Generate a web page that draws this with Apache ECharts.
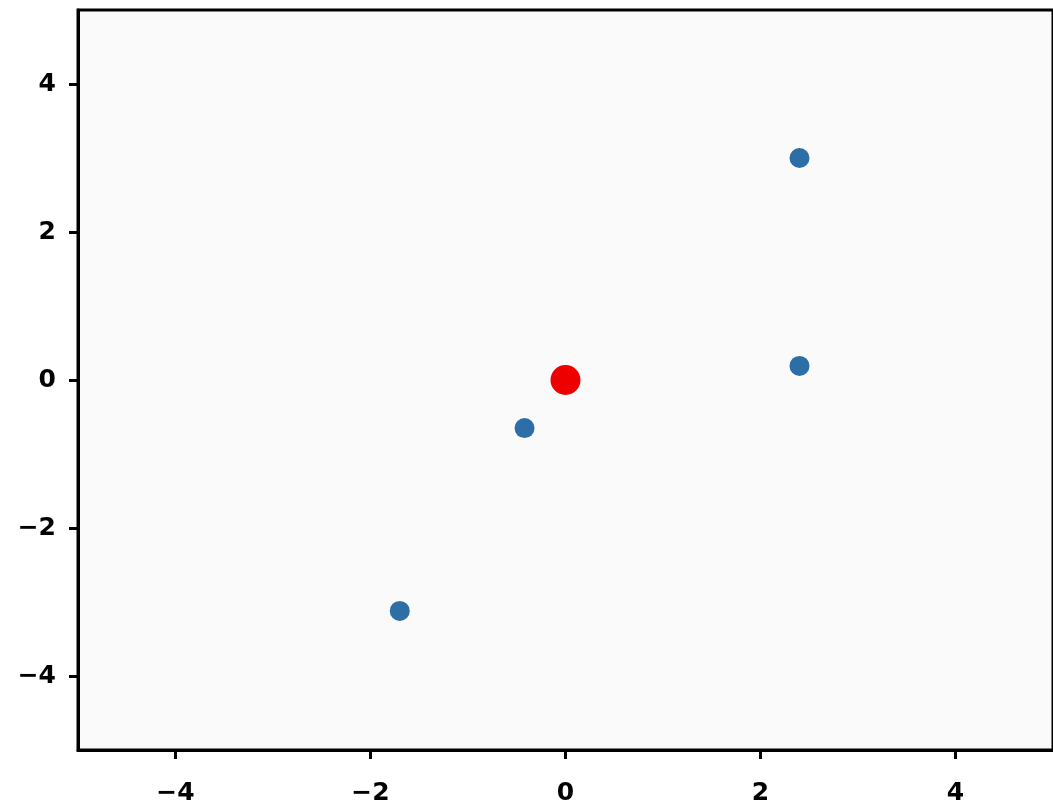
<!DOCTYPE html>
<html>
<head>
<meta charset="utf-8">
<script src="https://cdn.jsdelivr.net/npm/echarts@6/dist/echarts.min.js"></script>
<style>
  html, body { margin: 0; padding: 0; background: #ffffff; }
  #main { width: 1053px; height: 808px; }
</style>
</head>
<body>
<div id="main"></div>
<script>
var tickValues = [-4, -2, 0, 2, 4];
var otherPoints = [[2.4, 3.0], [2.4, 0.19], [-0.42, -0.65], [-1.7, -3.12]];
var originPoint = [[0, 0]];

var chartDom = document.getElementById('main');
var myChart = echarts.init(chartDom);

function fmt(v) {
  return v < 0 ? '\u2212' + (-v) : String(v);
}

var labelStyle = {
  color: '#000',
  fontSize: 25,
  fontWeight: 'bold',
  fontFamily: 'DejaVu Sans'
};

var tickStyle = {
  show: true,
  customValues: tickValues,
  length: 9,
  lineStyle: { color: '#000', width: 3 }
};

var option = {
  animation: false,
  grid: {
    left: 78,
    top: 10,
    right: -4,
    bottom: 58,
    show: true,
    backgroundColor: '#fafafa',
    borderColor: '#000',
    borderWidth: 3
  },
  xAxis: {
    type: 'value',
    min: -5,
    max: 5,
    splitLine: { show: false },
    axisLine: { onZero: false, lineStyle: { color: '#000', width: 3 } },
    axisTick: tickStyle,
    axisLabel: Object.assign({ customValues: tickValues, margin: 31, formatter: fmt }, labelStyle)
  },
  yAxis: {
    type: 'value',
    min: -5,
    max: 5,
    splitLine: { show: false },
    axisLine: { onZero: false, lineStyle: { color: '#000', width: 3 } },
    axisTick: tickStyle,
    axisLabel: Object.assign({ customValues: tickValues, margin: 22, formatter: fmt }, labelStyle)
  },
  series: [
    {
      type: 'scatter',
      data: otherPoints,
      symbolSize: 20,
      itemStyle: { color: '#2d6ea7', opacity: 1 }
    },
    {
      type: 'scatter',
      data: originPoint,
      symbolSize: 30,
      itemStyle: { color: '#ee0000', opacity: 1 }
    }
  ]
};

option && myChart.setOption(option);
</script>
</body>
</html>
